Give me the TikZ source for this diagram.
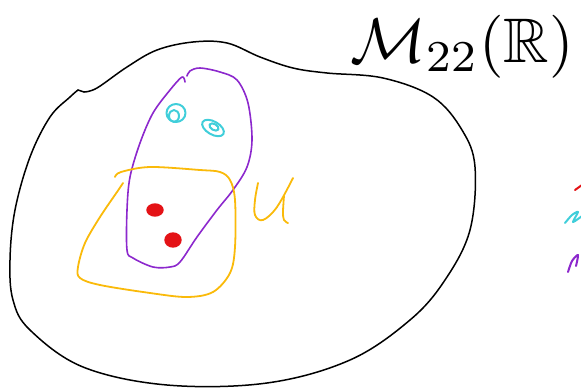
\documentclass[tikz,border=0pt]{standalone}
\usepackage{amssymb}
\usepackage{graphicx}
\usepackage{tikz}
\definecolor{inkred}{RGB}{228,18,22}
\definecolor{inkcyan}{RGB}{64,206,218}
\definecolor{inkpurple}{RGB}{140,40,205}
\definecolor{inkorange}{RGB}{250,186,10}

\begin{document}
\begin{tikzpicture}[
        x=1pt, y=-1pt,
        stroke/.style={line cap=round, line join=round},
        blob/.style={stroke, draw=black, line width=1.5pt},
        pset/.style={stroke, draw=inkpurple, line width=1.6pt},
        uset/.style={stroke, draw=inkorange, line width=1.8pt},
        rdot/.style={stroke, draw=inkred, fill=inkred, line width=1.4pt},
        cdot/.style={stroke, draw=inkcyan, line width=2pt},
      ]
        \useasboundingbox (0,0) rectangle (581,388);

        % ── the whole space ──
        \draw[blob] plot[smooth, tension=0.6] coordinates {
          (84,92) (97,88) (127,67) (157,50) (193,42) (227,43) (260,57)
          (293,68) (327,73) (383,78) (433,97) (462,130) (475,167)
          (470,230) (445,280) (410,320) (350,360) (267,383) (167,385)
          (83,367) (30,330) (13,300) (10,260) (15,210) (30,157)
          (50,117) (70,97) (78,90)};
        \draw[blob] (78,90) -- (84,92);

        % ── purple set ──
        \draw[pset] plot[smooth, tension=0.55] coordinates {
          (185,82) (182,77) (170,90) (153,113) (140,143) (130,177)
          (127,210) (127,250) (133,258) (153,267) (170,267) (180,262)
          (197,237) (217,210) (233,190) (247,167) (252,140) (248,103)
          (237,80) (220,72) (200,68) (190,71) (187,76)};

        % ── orange set U ──
        \draw[uset] plot[smooth, tension=0.55] coordinates {
          (115,177) (121,172) (150,167) (200,170) (220,172) (230,180)
          (235,200) (235,247) (230,273) (213,292) (187,297) (150,293)
          (100,285) (80,278) (78,267) (85,243) (100,217) (117,192)
          (123,183)};
        \draw[uset] plot[smooth, tension=0.6] coordinates {
          (258,183) (255,200) (255,215) (263,220) (277,207) (293,178)};
        \draw[uset] plot[smooth, tension=0.6] coordinates {
          (284,196) (283,212) (284,220) (288,223)};

        % ── points ──
        \draw[rdot] (155,210) ellipse[x radius=8pt, y radius=6pt];
        \draw[rdot] (173,240) ellipse[x radius=8pt, y radius=7pt];
        \draw[cdot] (176,113) ellipse[x radius=9.5pt, y radius=9pt];
        \draw[cdot] (174,116) ellipse[x radius=5pt, y radius=6pt];
        \draw[cdot, rotate around={-30:(213,128)}] (213,128)
          ellipse[x radius=12pt, y radius=6.5pt];
        \draw[cdot, rotate around={-30:(214,127)}] (214,127)
          ellipse[x radius=5pt, y radius=3pt];

        % ── title ──
        \node[anchor=base west, inner sep=0pt]
          (title) at (350,62) {\scalebox{6.3}{$\mathcal{M}_{22}(\mathbb{R})$}};

        % ── cut-off legend marks ──
        \draw[stroke, draw=inkred, line width=2pt] (575,190) -- (582,185);
        \draw[cdot] plot[smooth] coordinates {
          (565,223) (572,215) (578,212) (573,222) (582,216)};
        \draw[stroke, draw=inkpurple, line width=2pt] plot[smooth] coordinates {
          (568,272) (572,261) (578,255) (576,266)};
      \end{tikzpicture}
\end{document}
